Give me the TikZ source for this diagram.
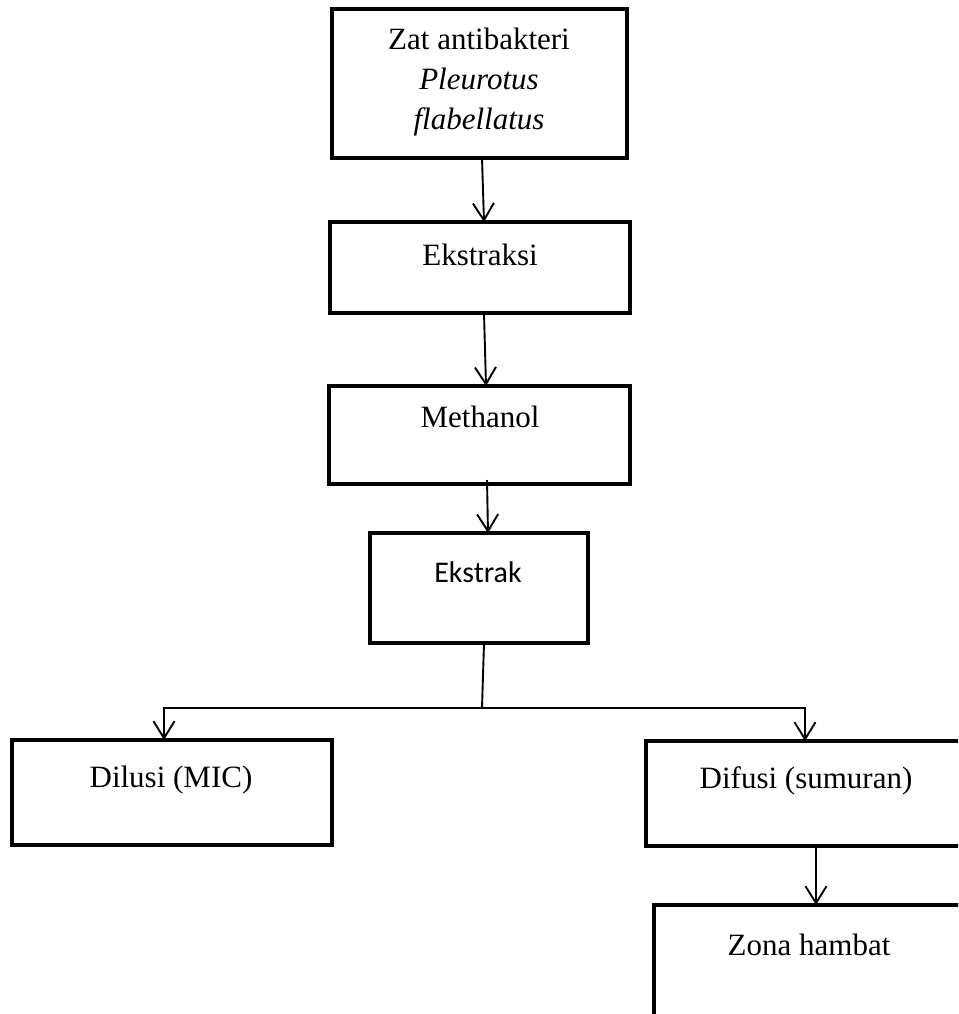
\documentclass[tikz,border=0pt]{standalone}
\usepackage{fontspec}
\setmainfont{Liberation Serif}
\newfontfamily\calfont{Carlito}
\usetikzlibrary{arrows.meta}
\tikzset{
  box/.style={draw, line width=3.4pt, rectangle, inner sep=0pt, outer sep=0pt},
  boxthick/.style={box, line width=4.2pt},
  txt/.style={inner sep=0pt, anchor=base, font=\fontsize{31pt}{40pt}\selectfont},
  arr/.style={line width=1.9pt, -{Straight Barb[length=17pt,width=21pt,line width=1.9pt]}},
  ln/.style={line width=1.9pt}
}
\begin{document}
\begin{tikzpicture}[x=1pt,y=-1pt]
\clip (0,0) rectangle (958,1014);
\useasboundingbox (0,0) rectangle (958,1014);
% boxes
\node[box, minimum width=295pt, minimum height=149pt] (top) at (479.5,83.5) {};
\node[box, minimum width=300pt, minimum height=91pt] (eks) at (480,267.5) {};
\node[boxthick, minimum width=301pt, minimum height=98pt] (meth) at (479.5,435) {};
\node[boxthick, minimum width=218pt, minimum height=110pt] (ekst) at (479,588) {};
\node[box, minimum width=320pt, minimum height=105pt] (dil) at (172,792.5) {};
\node[box, minimum width=324pt, minimum height=105pt] (dif) at (808,793.5) {};
\node[box, minimum width=316pt, minimum height=130pt] (zona) at (812,970) {};
% texts
\node[txt] (t1) at (479,49.5) {Zat antibakteri};
\node[txt] (t2) at (479,90) {\itshape Pleurotus};
\node[txt] (t3) at (479,129) {\itshape flabellatus};
\node[txt] (t4) at (480,265) {Ekstraksi};
\node[txt] (t5) at (480,427) {Methanol};
\node[txt, font=\calfont\fontsize{30pt}{36pt}\selectfont] (t6) at (478,582) {Ekstrak};
\node[txt] (t7) at (171,787) {Dilusi (MIC)};
\node[txt] (t8) at (806,788) {Difusi (sumuran)};
\node[txt] (t9) at (809,955) {Zona hambat};
% connectors
\coordinate (fork) at (482,708);
\draw[arr] ([xshift=2.5pt]top.south) -- ([xshift=4pt]eks.north);
\draw[arr] ([xshift=4pt]eks.south) -- ([xshift=6.5pt]meth.north);
\draw[arr] ([xshift=7.5pt,yshift=4pt]meth.south) -- ([xshift=9pt]ekst.north);
\draw[ln] ([xshift=5pt]ekst.south) -- (fork);
\draw[arr] (fork) -| ([xshift=-8pt]dil.north);
\draw[arr] (fork) -| ([xshift=-3pt]dif.north);
\draw[arr] ([xshift=8pt]dif.south) -- ([xshift=4pt]zona.north);
\end{tikzpicture}
\end{document}
